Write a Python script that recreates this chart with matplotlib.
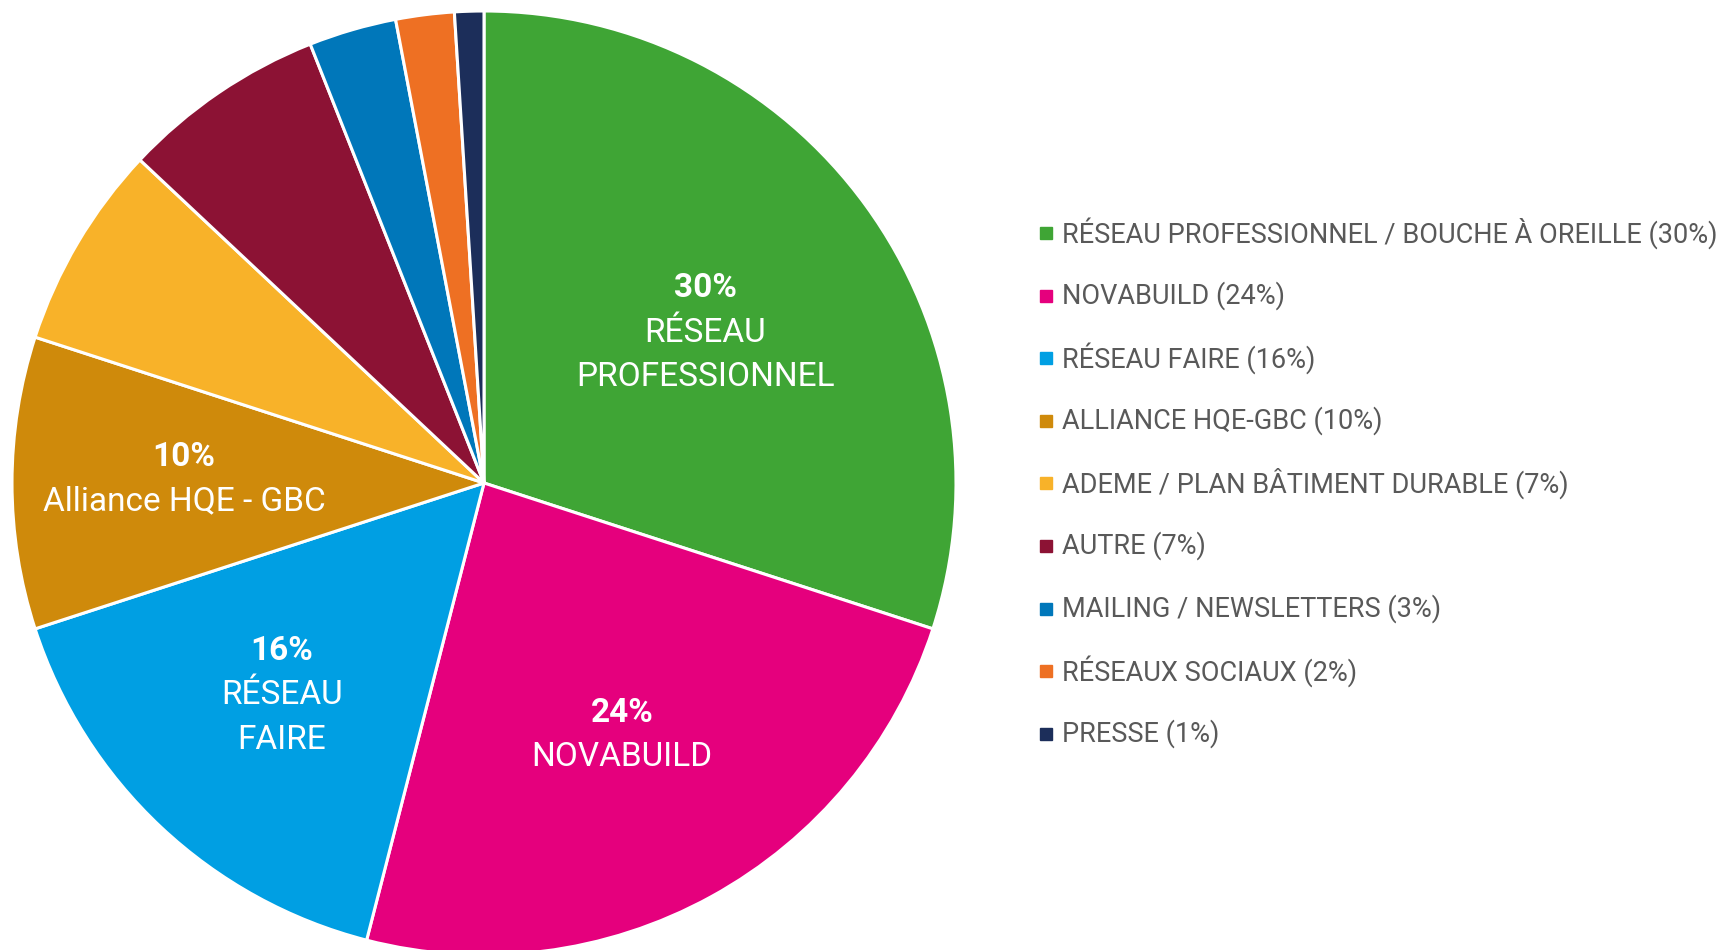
import numpy as np
import matplotlib
matplotlib.use("Agg")
import matplotlib.pyplot as plt
from matplotlib import font_manager

names = {f.name for f in font_manager.fontManager.ttflist}
FONT = ['Liberation Sans Narrow'] if 'Liberation Sans Narrow' in names else ['Roboto']
plt.rcParams['font.family'] = FONT + ['DejaVu Sans']

categories = ["RÉSEAU PROFESSIONNEL / BOUCHE À OREILLE", "NOVABUILD", "RÉSEAU FAIRE",
              "ALLIANCE HQE-GBC", "ADEME / PLAN BÂTIMENT DURABLE", "AUTRE",
              "MAILING / NEWSLETTERS", "RÉSEAUX SOCIAUX", "PRESSE"]
values = [30, 24, 16, 10, 7, 7, 3, 2, 1]
colors = ["#3FA535", "#E5007D", "#009FE3", "#CF8A0B", "#F8B229", "#8C1234",
          "#0077BA", "#EE7023", "#1C2E5A"]
# in-slice labels (index -> subtitle lines)
slice_labels = {0: ["RÉSEAU", "PROFESSIONNEL"], 1: ["NOVABUILD"],
                2: ["RÉSEAU", "FAIRE"], 3: ["Alliance HQE - GBC"]}
label_dist = {0: 0.57, 1: 0.603, 2: 0.616, 3: 0.636}
label_rot = {0: -1.3, 1: 0.2, 2: -0.8, 3: -1.3}

W, H = 1721, 950
fig = plt.figure(figsize=(W / 100, H / 100), dpi=100)
ax = fig.add_axes([0, 0, 1, 1])
cx, cy, R = 484, 950 - 483, 472
wedges, _ = ax.pie(values, colors=colors, startangle=90, counterclock=False,
                   center=(cx, cy), radius=R,
                   wedgeprops=dict(edgecolor='white', linewidth=2.2))
ax.set_xlim(0, W)
ax.set_ylim(0, H)
ax.set_aspect('equal')
ax.axis('off')

line_h = 44.5
cap = 12
for i, lines in slice_labels.items():
    w = wedges[i]
    ang = np.deg2rad((w.theta1 + w.theta2) / 2 + label_rot[i])
    d = label_dist[i] * R
    x = cx + d * np.cos(ang)
    y = cy + d * np.sin(ang)
    alltxt = [f"{values[i]}%"] + lines
    n = len(alltxt)
    top = y + (n - 1) * line_h / 2
    for k, t in enumerate(alltxt):
        ax.text(x, top - k * line_h - cap, t, ha='center', va='baseline', color='white',
                fontsize=24, fontweight='bold' if k == 0 else 'normal')

# legend
lx, ly0, dy = 1046, 950 - 233, 62.6
for i, (c, v, col) in enumerate(zip(categories, values, colors)):
    y = ly0 - i * dy
    ax.add_patch(plt.Rectangle((lx - 6, y - 6), 12, 12, color=col, transform=ax.transData))
    ax.text(lx + 16, y, f"{c} ({v}%)", ha='left', va='center', color='#595959', fontsize=19.5)

fig.savefig("out.png", dpi=100)
